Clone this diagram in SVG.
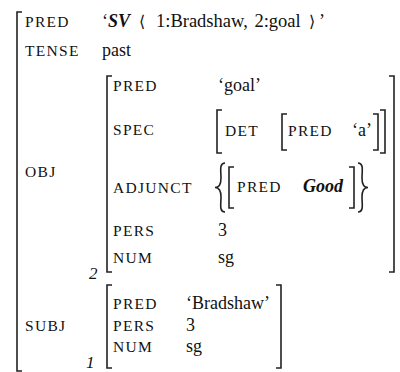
<svg xmlns="http://www.w3.org/2000/svg" width="400" height="372" viewBox="0 0 400 372" font-family="Liberation Serif, Times New Roman, serif">
  <style>
    text { fill: #111; }
    .lbl { font-size: 15.5px; letter-spacing: 1.3px; }
    .val { font-size: 18px; }
    .bi { font-weight: bold; font-style: italic; }
    .idx { font-size: 17px; font-style: italic; }
    .ang { font-family: "DejaVu Serif", "Liberation Serif", serif; font-size: 16px; }
    .br { fill: none; stroke: #222; stroke-width: 1.6; }
  </style>
  <rect width="400" height="372" fill="#fff"/>

  <!-- outer f-structure -->
  <g id="fs-outer">
    <path class="br" d="M22,12 H17 V371 H22"/>
    <text class="lbl" x="25" y="27">PRED</text>
    <text class="val" x="102" y="27">‘<tspan class="bi">SV</tspan><tspan class="ang" x="139">⟨</tspan><tspan x="156" font-size="18.5" word-spacing="2">1:Bradshaw, 2:goal</tspan><tspan class="ang" x="309">⟩</tspan><tspan x="319">’</tspan></text>
    <text class="lbl" x="25" y="56">TENSE</text>
    <text class="val" x="102" y="56">past</text>
    <text class="lbl" x="25" y="177">OBJ</text>
    <text class="lbl" x="25" y="331">SUBJ</text>
  </g>

  <!-- OBJ f-structure (index 2) -->
  <g id="fs-obj">
    <path class="br" d="M112,76 H107 V272 H112"/>
    <path class="br" d="M389,76 H394 V272 H389"/>
    <text class="idx" x="89" y="279">2</text>
    <text class="lbl" x="113" y="91">PRED</text>
    <text class="val" x="218" y="91">‘goal’</text>
    <text class="lbl" x="113" y="135">SPEC</text>
    <text class="lbl" x="113" y="193">ADJUNCT</text>
    <text class="lbl" x="113" y="236">PERS</text>
    <text class="val" x="218" y="236">3</text>
    <text class="lbl" x="113" y="263">NUM</text>
    <text class="val" x="218" y="263">sg</text>
  </g>

  <!-- SPEC value -->
  <g id="fs-spec">
    <path class="br" d="M222,110 H217 V153 H222"/>
    <path class="br" d="M380,110 H385 V153 H380"/>
    <text class="lbl" x="225" y="136">DET</text>
    <g id="fs-det">
      <path class="br" d="M287,114 H282 V150 H287"/>
      <path class="br" d="M373,114 H378 V150 H373"/>
      <text class="lbl" x="288" y="136">PRED</text>
      <text class="val" x="352" y="136">‘a’</text>
    </g>
  </g>

  <!-- ADJUNCT set -->
  <g id="fs-adjunct">
    <path class="br" d="M225,163 C219,163 221,171 221,178 C221,184 219,187.5 215,187.5 C219,187.5 221,191 221,197 C221,204 219,212 225,212"/>
    <path class="br" d="M358,163 C364,163 362,171 362,178 C362,184 364,187.5 368,187.5 C364,187.5 362,191 362,197 C362,204 364,212 358,212"/>
    <path class="br" d="M234,167 H229 V208 H234"/>
    <path class="br" d="M349,167 H354 V208 H349"/>
    <text class="lbl" x="237" y="192">PRED</text>
    <text class="val bi" x="303" y="192" font-size="19.5">Good</text>
  </g>

  <!-- SUBJ f-structure (index 1) -->
  <g id="fs-subj">
    <path class="br" d="M112,285 H107 V368 H112"/>
    <path class="br" d="M276,285 H281 V368 H276"/>
    <text class="idx" x="86" y="368">1</text>
    <text class="lbl" x="113" y="309">PRED</text>
    <text class="val" x="186" y="309">‘Bradshaw’</text>
    <text class="lbl" x="113" y="331">PERS</text>
    <text class="val" x="186" y="331">3</text>
    <text class="lbl" x="113" y="352">NUM</text>
    <text class="val" x="186" y="352">sg</text>
  </g>
</svg>
